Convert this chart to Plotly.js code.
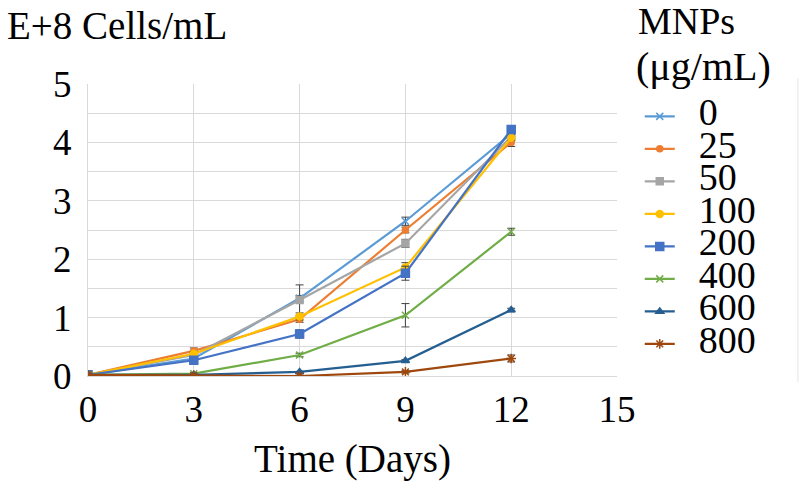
<!DOCTYPE html>
<html>
<head>
<meta charset="utf-8">
<script src="https://cdn.plot.ly/plotly-3.0.1.min.js"></script>
<style>html,body{margin:0;padding:0;background:#fff;}#chart{width:800px;height:481px;}</style>
</head>
<body>
<div id="chart"></div>
<script>
const days = [0, 3, 6, 9, 12];
const seriesNames = ["0", "25", "50", "100", "200", "400", "600", "800"];
const v0   = [0.02, 0.30, 1.33, 2.65, 4.15];
const v25  = [0.02, 0.43, 0.97, 2.50, 4.00];
const v50  = [0.02, 0.36, 1.30, 2.27, 4.10];
const v100 = [0.02, 0.38, 1.02, 1.86, 4.08];
const v200 = [0.02, 0.27, 0.72, 1.76, 4.22];
const v400 = [0.02, 0.04, 0.36, 1.04, 2.47];
const v600 = [0.02, 0.02, 0.07, 0.26, 1.13];
const v800 = [0.02, 0.01, 0.00, 0.07, 0.30];
const e0   = [0.01, 0.03, 0.05, 0.07, 0.05];
const e25  = [0.01, 0.05, 0.05, 0.05, 0.07];
const e50  = [0.01, 0.04, 0.26, 0.07, 0.05];
const e100 = [0.01, 0.04, 0.06, 0.08, 0.05];
const e200 = [0.01, 0.04, 0.07, 0.12, 0.03];
const e400 = [0.01, 0.01, 0.03, 0.20, 0.06];
const e600 = [0.01, 0.01, 0.01, 0.02, 0.03];
const e800 = [0.01, 0.01, 0.01, 0.02, 0.06];

const values = [v0, v25, v50, v100, v200, v400, v600, v800];
const errors = [e0, e25, e50, e100, e200, e400, e600, e800];
const colors = ["#5B9BD5", "#ED7D31", "#A5A5A5", "#FFC000", "#4472C4", "#70AD47", "#255E91", "#9E480E"];
const symbols = ["x-thin-open", "circle", "square", "circle", "square", "x-thin-open", "triangle-up", "asterisk-open"];
const sizes = [7, 6, 7, 7, 8, 7, 7, 8];

const traces = seriesNames.map((n, i) => ({
  type: "scatter",
  mode: "lines+markers",
  x: days,
  y: values[i],
  name: '<span style="font-size:38px">&nbsp;&nbsp;' + n + '</span>',
  line: {color: colors[i], width: 2.2},
  marker: {color: colors[i], symbol: symbols[i], size: sizes[i], line: {color: colors[i], width: 1.5}},
  error_y: {type: "data", array: errors[i], visible: true, color: "#404040", thickness: 1, width: 4}
}));

const serif = "Times New Roman";
const grid = "#D9D9D9";

const layout = {
  width: 800, height: 481,
  margin: {l: 88, r: 183, t: 84, b: 105},
  paper_bgcolor: "#fff", plot_bgcolor: "#fff",
  font: {family: serif, color: "#000"},
  showlegend: true,
  legend: {
    x: 1.043, y: 0.962, xanchor: "left", yanchor: "top",
    font: {family: serif, size: 22.7, color: "#000"},
    bgcolor: "rgba(0,0,0,0)", borderwidth: 0, tracegroupgap: 0
  },
  xaxis: {
    range: [0, 15], dtick: 3, tick0: 0,
    showgrid: true, gridcolor: grid, gridwidth: 1,
    zeroline: false, showline: true, linecolor: grid, linewidth: 1,
    ticks: "outside", ticklen: 1, tickcolor: "rgba(0,0,0,0)",
    tickfont: {family: serif, size: 37, color: "#000"},
    title: {text: "Time (Days)", font: {family: serif, size: 39, color: "#000"}, standoff: 15}
  },
  yaxis: {
    range: [0, 5], dtick: 1, tick0: 0,
    showgrid: true, gridcolor: grid, gridwidth: 1,
    minor: {dtick: 0.5, showgrid: true, gridcolor: grid, gridwidth: 1},
    zeroline: false, showline: true, linecolor: grid, linewidth: 1,
    ticks: "outside", ticklen: 8, tickcolor: "rgba(0,0,0,0)",
    tickfont: {family: serif, size: 37, color: "#000"}
  },
  annotations: [
    {xref: "paper", yref: "paper", x: -0.157, y: 1.2, xanchor: "left", yanchor: "middle",
     text: "E+8 Cells/mL", showarrow: false, font: {family: serif, size: 39, color: "#000"}},
    {xref: "paper", yref: "paper", x: 1.036, y: 1.215, xanchor: "left", yanchor: "middle",
     text: "MNPs", showarrow: false, font: {family: serif, size: 38, color: "#000"}},
    {xref: "paper", yref: "paper", x: 1.033, y: 1.06, xanchor: "left", yanchor: "middle",
     text: "(μg/mL)", showarrow: false, font: {family: serif, size: 40, color: "#000"}}
  ],
  shapes: [
    {type: "line", xref: "paper", yref: "paper", x0: 1.342, x1: 1.342, y0: 1.02, y1: -0.02,
     line: {color: "#E4E4E4", width: 1}}
  ]
};

Plotly.newPlot("chart", traces, layout, {displayModeBar: false, staticPlot: true});
</script>
</body>
</html>
